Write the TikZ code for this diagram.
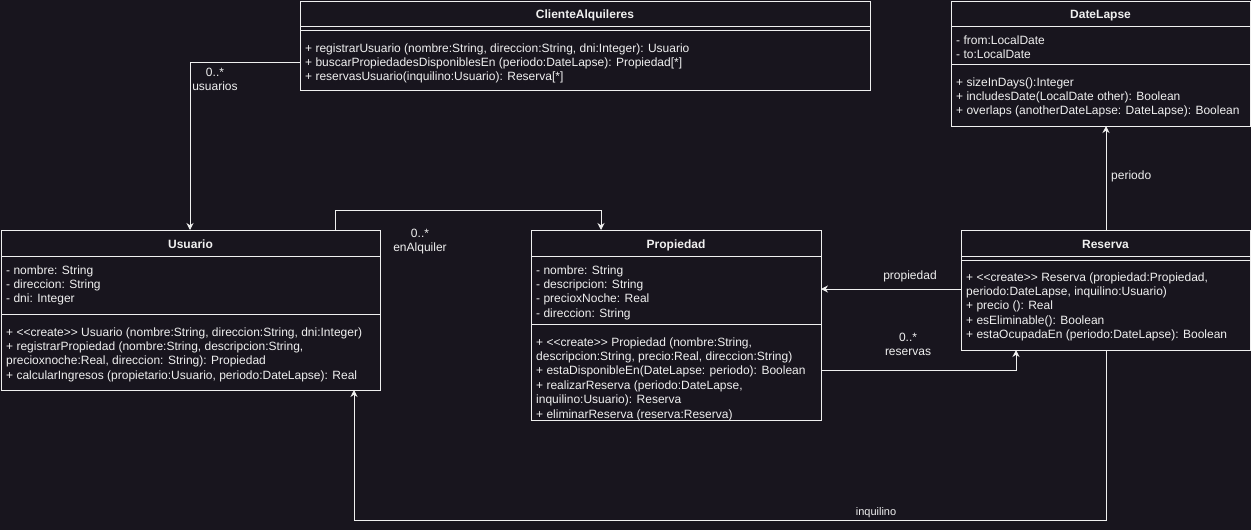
\documentclass[tikz,border=0pt]{standalone}
\usepackage{fontspec}
\setmainfont{Liberation Sans}
\usetikzlibrary{arrows.meta}
\definecolor{bg}{RGB}{24,21,30}
\definecolor{fg}{RGB}{240,240,240}
\newcommand\dlt{\mbox{<}\mbox{<}}
\newcommand\dgt{\mbox{>}\mbox{>}}
\begin{document}
\begin{tikzpicture}[x=1pt,y=-1pt,
  box/.style={draw=fg, fill=bg, line width=1pt, inner sep=0pt, outer sep=0pt, anchor=north west},
  sep/.style={draw=fg, line width=1pt},
  txt/.style={text=fg, inner sep=0pt, anchor=base west, font=\fontsize{12}{14.4}\selectfont},
  ttl/.style={text=fg, inner sep=0pt, anchor=base, font=\fontsize{12}{14.4}\selectfont\bfseries},
  lbl/.style={text=fg, inner sep=0pt, anchor=base, font=\fontsize{12}{14.4}\selectfont},
  assoc/.style={draw=fg, line width=1pt, -{Stealth[length=7pt,width=7pt]}}]
\useasboundingbox (0,0) rectangle (1251,530);
\fill[bg] (0,0) rectangle (1251,530);

% ClienteAlquileres
\node[box, minimum width=570pt, minimum height=89pt] (cli) at (300,1) {};
\draw[sep] (cli.west |- 0,26) -- (cli.east |- 0,26);
\draw[sep] (cli.west |- 0,30) -- (cli.east |- 0,30);
\node[ttl] (cli-t) at (cli.north |- 0,18) {ClienteAlquileres};
\node[txt] (cli-m1) at (305,52) {+ registrarUsuario (nombre:String, direccion:String, dni:Integer): Usuario};
\node[txt] (cli-m2) at (305,66.4) {+ buscarPropiedadesDisponiblesEn (periodo:DateLapse): Propiedad[*]};
\node[txt] (cli-m3) at (305,80.8) {+ reservasUsuario(inquilino:Usuario): Reserva[*]};

% DateLapse
\node[box, minimum width=299pt, minimum height=125pt] (dl) at (951,1) {};
\draw[sep] (dl.west |- 0,26) -- (dl.east |- 0,26);
\draw[sep] (dl.west |- 0,64) -- (dl.east |- 0,64);
\node[ttl] (dl-t) at (dl.north |- 0,18) {DateLapse};
\node[txt] (dl-a1) at (956,44) {- from:LocalDate};
\node[txt] (dl-a2) at (956,58.4) {- to:LocalDate};
\node[txt] (dl-m1) at (956,86) {+ sizeInDays():Integer};
\node[txt] (dl-m2) at (956,100.4) {+ includesDate(LocalDate other): Boolean};
\node[txt] (dl-m3) at (956,114.8) {+ overlaps (anotherDateLapse: DateLapse): Boolean};

% Usuario
\node[box, minimum width=379pt, minimum height=160pt] (usr) at (1,230) {};
\draw[sep] (usr.west |- 0,256) -- (usr.east |- 0,256);
\draw[sep] (usr.west |- 0,314) -- (usr.east |- 0,314);
\node[ttl] (usr-t) at (usr.north |- 0,248) {Usuario};
\node[txt] (usr-a1) at (6,274) {- nombre: String};
\node[txt] (usr-a2) at (6,288.4) {- direccion: String};
\node[txt] (usr-a3) at (6,302.8) {- dni: Integer};
\node[txt] (usr-m1) at (6,336) {+ \dlt create\dgt\ Usuario (nombre:String, direccion:String, dni:Integer)};
\node[txt] (usr-m2) at (6,350.4) {+ registrarPropiedad (nombre:String, descripcion:String,};
\node[txt] (usr-m3) at (6,364.8) {precioxnoche:Real, direccion: String): Propiedad};
\node[txt] (usr-m4) at (6,379.2) {+ calcularIngresos (propietario:Usuario, periodo:DateLapse): Real};

% Propiedad
\node[box, minimum width=290pt, minimum height=190pt] (prop) at (531,230) {};
\draw[sep] (prop.west |- 0,256) -- (prop.east |- 0,256);
\draw[sep] (prop.west |- 0,324) -- (prop.east |- 0,324);
\node[ttl] (prop-t) at (prop.north |- 0,248) {Propiedad};
\node[txt] (prop-a1) at (536,274) {- nombre: String};
\node[txt] (prop-a2) at (536,288.4) {- descripcion: String};
\node[txt] (prop-a3) at (536,302.8) {- precioxNoche: Real};
\node[txt] (prop-a4) at (536,317.2) {- direccion: String};
\node[txt] (prop-m1) at (536,346) {+ \dlt create\dgt\ Propiedad (nombre:String,};
\node[txt] (prop-m2) at (536,360.4) {descripcion:String, precio:Real, direccion:String)};
\node[txt] (prop-m3) at (536,374.8) {+ estaDisponibleEn(DateLapse: periodo): Boolean};
\node[txt] (prop-m4) at (536,389.2) {+ realizarReserva (periodo:DateLapse,};
\node[txt] (prop-m5) at (536,403.6) {inquilino:Usuario): Reserva};
\node[txt] (prop-m6) at (536,418) {+ eliminarReserva (reserva:Reserva)};

% Reserva
\node[box, minimum width=289pt, minimum height=120pt] (res) at (961,230) {};
\draw[sep] (res.west |- 0,256) -- (res.east |- 0,256);
\draw[sep] (res.west |- 0,260) -- (res.east |- 0,260);
\node[ttl] (res-t) at (res.north |- 0,248) {Reserva};
\node[txt] (res-m1) at (966,281) {+ \dlt create\dgt\ Reserva (propiedad:Propiedad,};
\node[txt] (res-m2) at (966,295.4) {periodo:DateLapse, inquilino:Usuario)};
\node[txt] (res-m3) at (966,309.8) {+ precio (): Real};
\node[txt] (res-m4) at (966,324.2) {+ esEliminable(): Boolean};
\node[txt] (res-m5) at (966,338.6) {+ estaOcupadaEn (periodo:DateLapse): Boolean};

% connectors
\draw[assoc] (cli.west |- 0,62) -| (usr.north -| 190,0);
\node[lbl] (l-usr1) at (215,76.5) {0..*};
\node[lbl] (l-usr2) at (215,90.9) {usuarios};

\draw[assoc] (usr.north -| 335,0) -- (335,210) -- (601,210) -- (prop.north -| 601,0);
\node[lbl] (l-alq1) at (420,237) {0..*};
\node[lbl] (l-alq2) at (420,251.4) {enAlquiler};

\draw[assoc] (res.west |- 0,289) -- (prop.east |- 0,289);
\node[lbl] (l-prop) at (910,279) {propiedad};

\draw[assoc] (prop.east |- 0,370) -| (res.south -| 1016,0);
\node[lbl] (l-res1) at (908,341) {0..*};
\node[lbl] (l-res2) at (908,355.4) {reservas};

\draw[assoc] (res.north -| 1106,0) -- (dl.south -| 1106,0);
\node[lbl, anchor=base west] (l-per) at (1111,179) {periodo};

\draw[assoc] (res.south -| 1106,0) -- (1106,520) -- (354,520) -- (usr.south -| 354,0);
\node[lbl, font=\fontsize{11}{13}\selectfont] (l-inq) at (876,515.5) {inquilino};
\end{tikzpicture}
\end{document}
